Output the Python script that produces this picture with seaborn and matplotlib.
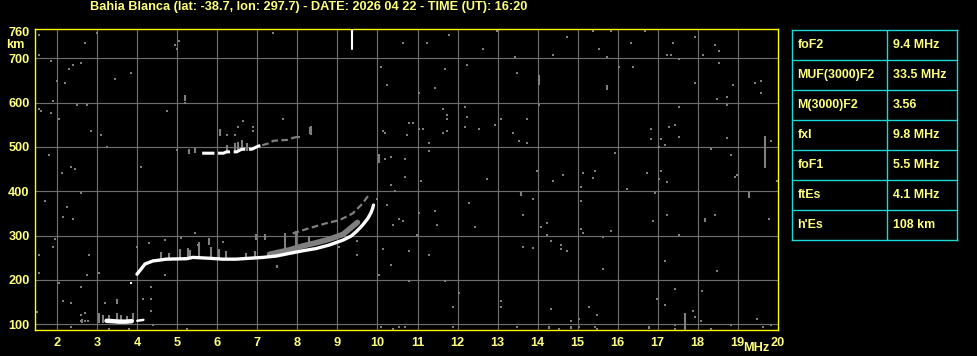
import numpy as np
import pandas as pd
import matplotlib
matplotlib.use("Agg")
import matplotlib.pyplot as plt
import seaborn as sns

# ---------------- data (frequency MHz, virtual height km) ----------------
title_text = "Bahia Blanca (lat: -38.7, lon: 297.7) - DATE: 2026 04 22 - TIME (UT): 16:20"

# strong (white) ordinary F trace
o_f = [3.99, 4.07, 4.19, 4.39, 4.57, 4.72, 5.23, 5.39, 5.80, 6.14, 6.47, 6.80, 7.14, 7.47,
       7.80, 8.14, 8.47, 8.80, 9.14, 9.34, 9.47, 9.63, 9.76, 9.84, 9.88, 9.90]
o_h = [213, 222, 236, 243, 245, 247, 248, 251, 249, 247, 247, 249, 251, 254,
       260, 266, 271, 279, 290, 299, 309, 324, 339, 352, 362, 369]

# weak (gray) band just above the strong trace
band_f = [7.30, 7.80, 8.14, 8.47, 8.80, 9.14, 9.34, 9.50]
band_h = [258, 268, 277, 284, 292, 303, 318, 330]

# weak dashed extraordinary trace
x_f = [7.88, 8.30, 8.72, 9.05, 9.38, 9.59, 9.72, 9.80]
x_h = [305, 317, 328, 335, 350, 369, 384, 394]

# second-hop echo (white part, then gray continuation)
m_f = [5.62, 5.90, 6.15, 6.23, 6.48, 6.61, 6.86, 7.02, 7.12]
m_h = [486, 486, 486, 489, 489, 495, 495, 502, 504]
mg_f = [7.12, 7.27, 7.40, 7.75, 7.90, 8.02]
mg_h = [504, 508, 514, 516, 521, 523]

# sporadic E (strong part)
es_f = [3.23, 3.40, 3.55, 3.70, 3.86]
es_h = [108, 107, 106, 106, 107]
es2_f = [4.00, 4.15]
es2_h = [108, 110]

# isolated strong points
white_pt_f = [3.84]
white_pt_h = [194]

# vertical gray streaks: frequency, lower height, upper height
st_f  = [4.59, 4.80, 5.07, 5.26, 5.32, 5.55, 5.80, 5.84, 6.05, 6.22, 6.72, 6.93, 6.97, 7.18,
         7.30, 7.68, 7.96, 8.30, 3.05, 3.15, 3.30, 3.48, 3.60, 3.75, 3.90, 2.62, 3.49,
         6.07, 6.23, 6.44, 6.52, 6.61, 6.73, 6.82, 5.30, 5.45, 8.32, 8.34, 5.19, 14.04,
         15.74, 13.59, 19.29, 18.19, 17.69, 19.69, 7.48, 14.29, 14.84, 16.79, 10.04]
st_lo = [245, 246, 245, 248, 250, 252, 280, 250, 247, 248, 248, 248, 290, 290,
         250, 268, 275, 280, 104, 104, 104, 106, 104, 104, 106, 104, 145,
         525, 490, 490, 490, 490, 492, 495, 485, 486, 530, 528, 603, 640,
         628, 389, 386, 330, 87, 453, 226, 90, 90, 90, 463]
st_hi = [264, 262, 270, 272, 268, 286, 295, 275, 270, 266, 260, 265, 303, 303,
         262, 305, 310, 300, 125, 122, 120, 125, 120, 118, 126, 111, 158,
         540, 505, 510, 512, 515, 508, 500, 496, 498, 545, 548, 617, 662,
         640, 399, 398, 340, 126, 524, 234, 97, 97, 97, 485]

# scattered weak noise dots
noise_f = [1.54, 1.54, 2.99, 2.69, 1.84, 2.29, 2.39, 2.59, 3.44, 3.84, 2.19, 1.98, 4.94, 5.04,
           4.99, 7.39, 1.89, 1.54, 1.59, 1.84, 2.49, 2.74, 2.04, 4.74, 5.19, 2.84, 3.09, 3.24,
           1.79, 2.34, 2.44, 2.12, 4.09, 4.98, 10.09, 10.24, 10.64, 10.14, 10.19, 10.19, 10.34,
           10.69, 7.64, 8.04, 6.63, 6.52, 6.88, 6.88, 6.23, 6.44,
           1.53, 1.49, 2.03, 2.13, 2.34, 2.34, 2.58, 2.74, 3.04, 2.58, 2.69, 3.29, 3.79, 4.13,
           4.33, 4.33, 4.33, 4.39, 4.69, 5.23, 10.03, 10.34, 10.78, 11.69, 12.03, 11.89, 11.89,
           10.08, 10.38, 10.54, 10.69, 3.19, 2.59, 1.69, 2.24, 2.14, 2.39, 1.94, 1.89, 1.54,
           2.79, 3.99, 4.29, 10.34, 10.44, 10.24, 9.99, 10.39, 10.54, 10.64, 9.49, 9.49, 10.14,
           9.04, 5.45, 5.09, 4.70, 5.52, 6.15, 11.24, 11.79, 12.99, 12.64, 14.74, 15.39, 15.84,
           16.69, 15.54, 16.34, 14.39, 13.44, 15.74, 17.24, 17.34, 17.39, 17.94, 18.44, 18.54,
           18.14, 18.54, 17.54, 16.04, 16.39, 12.24, 11.69, 11.44, 11.04, 13.49, 17.94, 18.89,
           19.44, 19.59, 19.59, 18.49, 18.74, 18.74, 17.54, 14.04, 12.19, 11.64, 11.74, 11.74,
           10.79, 10.89, 10.74, 11.04, 11.14, 11.64, 11.74, 12.19, 12.24, 12.54, 13.09, 12.94,
           13.74, 13.39, 13.54, 13.74, 11.29, 11.29, 10.69, 11.09, 12.74, 13.99, 14.39, 14.64,
           15.14, 15.44, 15.39, 15.94, 16.74, 16.84, 16.84, 17.09, 17.04, 17.19, 17.29, 17.44,
           17.54, 18.34, 18.84, 18.74, 19.84, 17.09, 17.04, 17.24, 18.94, 18.99, 19.99,
           15.09, 16.24, 13.89, 12.29, 15.09, 16.94, 11.44, 11.04, 13.64, 17.24, 18.44, 19.79,
           10.65, 11.49, 12.44, 14.24, 14.09, 15.09, 15.14, 15.84, 16.89, 14.24, 10.99, 15.64,
           17.54, 14.34, 14.59, 14.59, 14.74, 13.64, 13.89, 10.79, 11.29, 17.19, 15.64, 18.49,
           10.79, 11.69, 13.09, 13.09, 17.44, 16.99, 17.19, 18.10, 14.34, 15.29, 15.49, 17.89,
           17.94, 18.09, 19.49, 13.49, 14.54, 14.84, 15.04, 15.04, 15.44, 15.49, 17.44, 17.44,
           18.34, 18.84, 19.64, 19.84, 2.60, 2.70, 2.77]
noise_h = [753, 708, 758, 735, 695, 677, 686, 690, 654, 668, 645, 650, 731, 740,
           722, 758, 604, 586, 582, 577, 595, 595, 564, 582, 599, 537, 528, 501,
           483, 456, 451, 442, 456, 494, 681, 640, 735, 537, 532, 474, 478,
           433, 564, 523, 559, 546, 546, 537, 528, 528,
           215, 127, 194, 153, 149, 95, 185, 212, 216, 121, 126, 90, 90, 158,
           185, 158, 131, 99, 212, 90, 212, 234, 197, 197, 171, 140, 95,
           95, 90, 95, 95, 149, 397, 379, 365, 343, 338, 293, 275, 257,
           257, 275, 284, 415, 401, 370, 383, 325, 338, 334, 289, 257, 271,
           275, 305, 294, 290, 280, 286, 735, 753, 761, 722, 749, 762, 762,
           762, 722, 735, 708, 704, 704, 708, 708, 735, 749, 731, 717,
           708, 690, 699, 681, 681, 686, 677, 632, 622, 668, 645, 640,
           645, 650, 622, 609, 613, 595, 591, 595, 591, 586, 573, 564,
           555, 555, 528, 541, 541, 532, 537, 546, 568, 541, 564, 550,
           564, 532, 514, 510, 510, 492, 474, 424, 428, 446, 424, 437,
           442, 446, 431, 487, 442, 541, 519, 519, 501, 505, 546, 550,
           523, 496, 483, 521, 514, 446, 428, 421, 433, 437, 424,
           410, 406, 383, 374, 379, 397, 356, 352, 347, 347, 347, 338,
           332, 325, 320, 329, 320, 316, 307, 311, 334, 302, 302, 298,
           302, 289, 280, 271, 266, 275, 272, 266, 256, 242, 225, 221,
           198, 198, 153, 140, 180, 158, 144, 176, 135, 140, 122, 131,
           117, 108, 113, 95, 90, 108, 113, 95, 95, 90, 99, 90,
           90, 99, 95, 99, 108, 108, 108]

# top white marker line
top_f = [9.37, 9.37]
top_h = [722, 765]

y_ticks = [100, 200, 300, 400, 500, 600, 700, 760]
x_ticks = list(range(2, 21))

table_params = ["foF2", "MUF(3000)F2", "M(3000)F2", "fxI", "foF1", "ftEs", "h'Es"]
table_values = ["9.4 MHz", "33.5 MHz", "3.56", "9.8 MHz", "5.5 MHz", "4.1 MHz", "108 km"]

# ---------------- style ----------------
sns.set_theme(style="dark", rc={"axes.facecolor": "black", "figure.facecolor": "black"})
plt.rcParams["font.family"] = ["Liberation Sans", "DejaVu Sans"]

TXT = "#ffff80"
SPINE = "#ffff00"
GRID = "#6e6e6e"
WEAK = "#7f7f7f"
CYAN = "#1ed8d8"
FS = 9.2

W, H = 978, 356
fig = plt.figure(figsize=(W / 100, H / 100), dpi=100)
ax = fig.add_axes([35.3 / W, (H - 330.3) / H, (777.7 - 35.3) / W, (330.3 - 29.3) / H])
ax.set_facecolor("black")

# grid
for f in range(2, 20):
    ax.axvline(f, color=GRID, lw=0.85, zorder=0)
for h in range(100, 701, 100):
    ax.axhline(h, color=GRID, lw=0.85, zorder=0)

# streaks
ax.vlines(st_f, st_lo, st_hi, color=WEAK, lw=1.5, zorder=1)

# noise
sns.scatterplot(x=noise_f, y=noise_h, marker="s", s=2.3, color=WEAK, linewidth=0, ax=ax, zorder=2)

# weak traces
sns.lineplot(x=band_f, y=band_h, sort=False, estimator=None, color=WEAK, lw=4.0, ax=ax, zorder=2)
sns.lineplot(x=x_f, y=x_h, sort=False, estimator=None, color=WEAK, lw=1.6, ax=ax, zorder=2,
             linestyle=(0, (3, 1.5)))
sns.lineplot(x=mg_f, y=mg_h, sort=False, estimator=None, color=WEAK, lw=1.6, ax=ax, zorder=2,
             linestyle=(0, (3, 1.5)))

# strong traces
sns.lineplot(x=o_f, y=o_h, sort=False, estimator=None, color="white", lw=2.4, ax=ax, zorder=3)
sns.lineplot(x=m_f, y=m_h, sort=False, estimator=None, color="white", lw=2.2, ax=ax, zorder=3,
             linestyle=(0, (4, 1.2)))
sns.lineplot(x=es_f, y=es_h, sort=False, estimator=None, color="white", lw=3.2, ax=ax, zorder=3)
sns.lineplot(x=es2_f, y=es2_h, sort=False, estimator=None, color="white", lw=1.8, ax=ax, zorder=3)
sns.lineplot(x=top_f, y=top_h, sort=False, estimator=None, color="white", lw=1.5, ax=ax, zorder=3)
sns.scatterplot(x=white_pt_f, y=white_pt_h, marker="s", s=3, color="white", linewidth=0, ax=ax, zorder=3)

ax.set_xlim(1.45, 20.0)
ax.set_ylim(86.5, 765.5)
ax.set_xticks(x_ticks)
ax.set_xticklabels([str(t) for t in x_ticks])
ax.set_yticks(y_ticks)
ax.set_yticklabels([str(t) for t in y_ticks])
ax.tick_params(axis="both", length=0, colors=TXT, labelsize=FS)
ax.tick_params(axis="y", pad=4)
ax.tick_params(axis="x", pad=5)
for lab in ax.get_xticklabels() + ax.get_yticklabels():
    lab.set_fontweight("bold")
    lab.set_color(TXT)
ax.grid(False)
ax.set_xlabel("")
ax.set_ylabel("")
for sp in ax.spines.values():
    sp.set_visible(True)
    sp.set_color(SPINE)
    sp.set_linewidth(1.0)

fig.text(90 / W, 1 - 7 / H, title_text, color=TXT, fontsize=9.2, fontweight="bold",
         ha="left", va="center")
fig.text(6 / W, 1 - 45 / H, "km", color=TXT, fontsize=FS, fontweight="bold", ha="left", va="center")
fig.text(769 / W, 1 - 348 / H, "MHz", color=TXT, fontsize=FS, fontweight="bold", ha="right", va="center")

# parameter table
tx0, tx1, ty0, ty1 = 792.3, 957.3, 30.3, 240.3
tax = fig.add_axes([tx0 / W, (H - ty1) / H, (tx1 - tx0) / W, (ty1 - ty0) / H])
tax.set_facecolor("black")
tax.set_xlim(0, 1)
tax.set_ylim(len(table_params), 0)
tax.set_xticks([])
tax.set_yticks([])
for sp in tax.spines.values():
    sp.set_visible(True)
    sp.set_color(CYAN)
    sp.set_linewidth(1.0)
for i in range(1, len(table_params)):
    tax.axhline(i, color=CYAN, lw=1.0)
tax.axvline((887.3 - tx0) / (tx1 - tx0), color=CYAN, lw=1.0)
for i, (p, v) in enumerate(zip(table_params, table_values)):
    tax.text((797.3 - tx0) / (tx1 - tx0), i + 0.5, p, color=TXT, fontsize=8.9, fontweight="bold",
             ha="left", va="center")
    tax.text((892.7 - tx0) / (tx1 - tx0), i + 0.5, v, color=TXT, fontsize=8.9, fontweight="bold",
             ha="left", va="center")

fig.savefig("out.png", dpi=100, facecolor="black")
